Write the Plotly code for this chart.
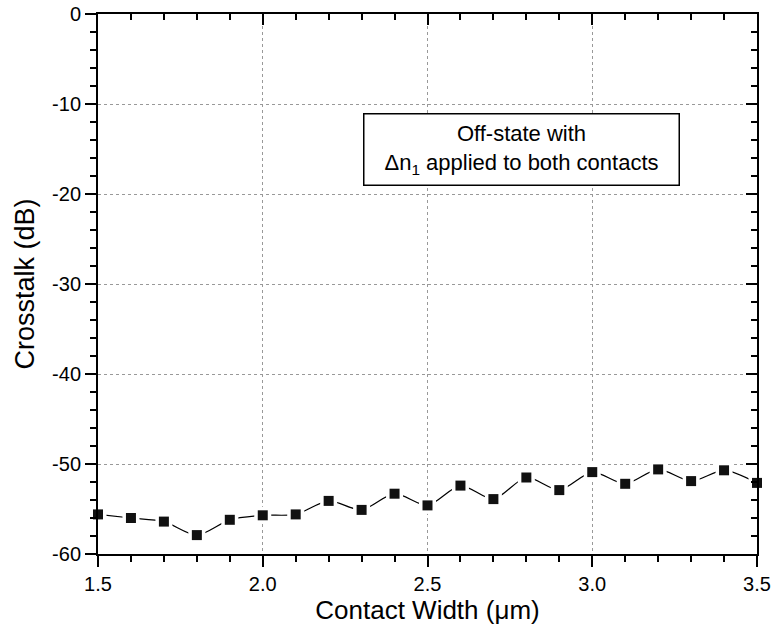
import plotly.graph_objects as go

contact_width = [1.5, 1.6, 1.7, 1.8, 1.9, 2.0, 2.1, 2.2, 2.3, 2.4, 2.5,
                 2.6, 2.7, 2.8, 2.9, 3.0, 3.1, 3.2, 3.3, 3.4, 3.5]
crosstalk = [-55.6, -56.0, -56.4, -57.9, -56.2, -55.7, -55.6, -54.1, -55.1, -53.3, -54.6,
             -52.4, -53.9, -51.5, -52.9, -50.9, -52.2, -50.6, -51.9, -50.7, -52.1]

x_ticks = [1.5, 2.0, 2.5, 3.0, 3.5]
x_ticklabels = ["1.5", "2.0", "2.5", "3.0", "3.5"]
y_ticks = [0, -10, -20, -30, -40, -50, -60]
y_ticklabels = ["0", "-10", "-20", "-30", "-40", "-50", "-60"]

FONT = "Liberation Sans, Arial, sans-serif"

fig = go.Figure()
fig.add_trace(go.Scatter(x=contact_width, y=crosstalk, mode="lines",
                         line=dict(color="black", width=1.2, shape="spline", smoothing=0.8),
                         hoverinfo="skip", showlegend=False, cliponaxis=False))
fig.add_trace(go.Scatter(x=contact_width, y=crosstalk, mode="markers",
                         marker=dict(symbol="square", size=17, color="white"),
                         hoverinfo="skip", showlegend=False, cliponaxis=False))
fig.add_trace(go.Scatter(x=contact_width, y=crosstalk, mode="markers",
                         marker=dict(symbol="square", size=10, color="#111111"),
                         showlegend=False, cliponaxis=False))
# invisible trace to anchor mirrored axes (top/right)
fig.add_trace(go.Scatter(x=contact_width, y=crosstalk, mode="lines", xaxis="x2", yaxis="y2",
                         line=dict(width=0), opacity=0, hoverinfo="skip", showlegend=False))

axis_common = dict(showline=True, linecolor="black", linewidth=2, zeroline=False,
                   tickcolor="black", tickwidth=2, ticklen=11, automargin=False,
                   tickfont=dict(family=FONT, size=20, color="black"))

fig.update_layout(
    width=773, height=631,
    margin=dict(l=98, r=16, t=14, b=77),
    paper_bgcolor="white", plot_bgcolor="white",
    font=dict(family=FONT, color="black"),
    xaxis=dict(range=[1.5, 3.5], tickvals=x_ticks, ticktext=x_ticklabels, ticks="outside",
               showgrid=True, gridcolor="#999999", griddash="dot", gridwidth=1,
               minor=dict(dtick=0.1, tick0=1.5, ticks="outside", ticklen=6, tickwidth=2, tickcolor="black", showgrid=False),
               title=dict(text="Contact Width (\u03bcm)", font=dict(family=FONT, size=26), standoff=6),
               **axis_common),
    yaxis=dict(range=[-60, 0], tickvals=y_ticks, ticktext=y_ticklabels, ticks="outside",
               showgrid=True, gridcolor="#999999", griddash="dot", gridwidth=1,
               minor=dict(dtick=2, ticks="outside", ticklen=6, tickwidth=2, tickcolor="black", showgrid=False),
               title=dict(text="Crosstalk (dB)", font=dict(family=FONT, size=27), standoff=10),
               **axis_common),
    xaxis2=dict(overlaying="x", side="top", range=[1.5, 3.5], tickvals=x_ticks,
                ticks="inside", showticklabels=False, showgrid=False,
                minor=dict(dtick=0.1, tick0=1.5, ticks="inside", ticklen=6, tickwidth=2, tickcolor="black", showgrid=False),
                **axis_common),
    yaxis2=dict(overlaying="y", side="right", range=[-60, 0], tickvals=y_ticks,
                ticks="inside", showticklabels=False, showgrid=False,
                minor=dict(dtick=2, ticks="inside", ticklen=6, tickwidth=2, tickcolor="black", showgrid=False),
                **axis_common),
)

fig.add_annotation(
    xref="x", yref="y", x=2.785, y=-15.1,
    text="Off-state with<br>\u0394n<sub>1</sub> applied to both contacts",
    showarrow=False, align="center",
    font=dict(family=FONT, size=22, color="black"),
    bordercolor="black", borderwidth=1.5, bgcolor="white",
    width=312, height=68, borderpad=1,
)

fig.write_html("out.html")
